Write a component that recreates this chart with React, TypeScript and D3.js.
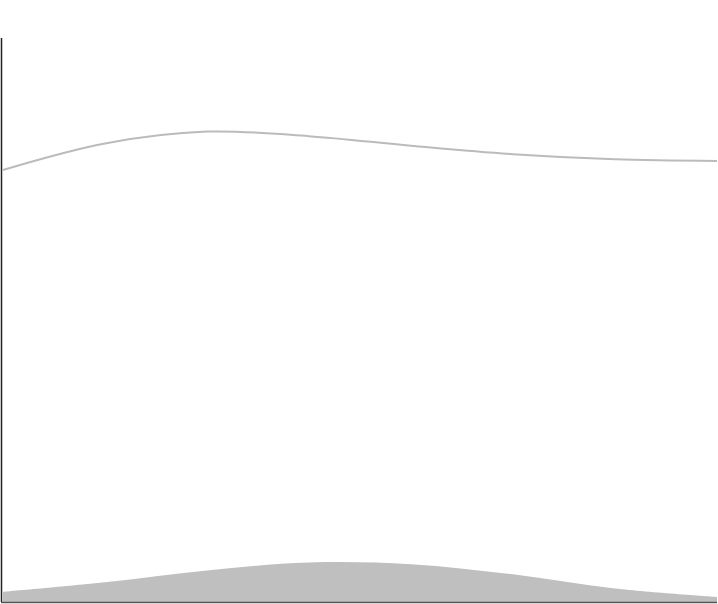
import React, { useEffect, useRef } from "react";
import * as d3 from "d3";

const steps = [0, 1, 2, 3, 4, 5, 6, 7];
const lineValues = [76.6, 81.3, 83.4, 82.6, 80.9, 79.4, 78.5, 78.2];
const areaValues = [1.8, 3.5, 5.6, 7.0, 6.7, 4.9, 2.4, 0.9];

const width = 718;
const height = 604;
const margin = { top: 38, right: 1, bottom: 1, left: 3 };

export default function App() {
  const svgRef = useRef<SVGSVGElement>(null);

  useEffect(() => {
    const svg = d3.select(svgRef.current);
    svg.selectAll("*").remove();

    const x = d3.scaleLinear()
      .domain([0, steps.length - 1])
      .range([margin.left, width - margin.right]);

    const y = d3.scaleLinear()
      .domain([0, 100])
      .range([height - margin.bottom - 1, margin.top]);

    const area = d3.area<number>()
      .x((d, i) => x(steps[i]))
      .y0(y(0))
      .y1(d => y(d))
      .curve(d3.curveCatmullRom);

    svg.append("path")
      .datum(areaValues)
      .attr("d", area)
      .attr("fill", "#bfbfbf");

    const line = d3.line<number>()
      .x((d, i) => x(steps[i]))
      .y(d => y(d))
      .curve(d3.curveCatmullRom);

    svg.append("path")
      .datum(lineValues)
      .attr("d", line)
      .attr("fill", "none")
      .attr("stroke", "#bbbbbb")
      .attr("stroke-width", 2);

    // axes, no ticks
    svg.append("line")
      .attr("x1", 1.5).attr("x2", 1.5)
      .attr("y1", margin.top).attr("y2", y(0))
      .attr("stroke", "#222")
      .attr("stroke-width", 1.5);

    svg.append("line")
      .attr("x1", 1).attr("x2", width - margin.right)
      .attr("y1", y(0) + 0.5).attr("y2", y(0) + 0.5)
      .attr("stroke", "#555")
      .attr("stroke-width", 1.5);
  }, []);

  return (
    <svg
      ref={svgRef}
      width={width}
      height={height}
      style={{ position: "absolute", top: 0, left: 0, background: "#fff" }}
    />
  );
}
